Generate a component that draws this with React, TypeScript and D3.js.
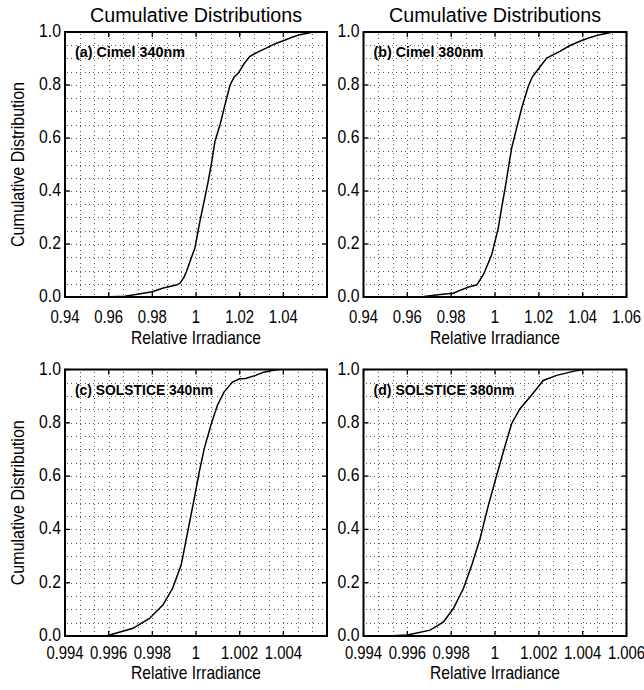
import React from "react";
import * as d3 from "d3";

// ---- data -------------------------------------------------------------
const cimel340X = [0.9575, 0.9675, 0.9759, 0.98, 0.985, 0.991, 0.9927, 0.9945, 0.9957, 0.9975, 0.9995, 1.0018, 1.0037, 1.0056, 1.0072, 1.0087, 1.011, 1.0133, 1.0156, 1.0175, 1.0194, 1.022, 1.0247, 1.0285, 1.0324, 1.036, 1.04, 1.044, 1.0476, 1.0537];
const cimel340F = [0, 0.003, 0.014, 0.02, 0.034, 0.045, 0.052, 0.075, 0.097, 0.14, 0.185, 0.286, 0.36, 0.437, 0.51, 0.588, 0.65, 0.726, 0.8, 0.83, 0.845, 0.88, 0.908, 0.925, 0.94, 0.955, 0.967, 0.98, 0.99, 1.0];

const cimel380X = [0.957, 0.9676, 0.975, 0.981, 0.984, 0.988, 0.9917, 0.9947, 0.9965, 0.9985, 1.0015, 1.003, 1.0046, 1.0061, 1.0076, 1.0099, 1.0122, 1.0152, 1.017, 1.019, 1.0236, 1.0296, 1.034, 1.0387, 1.043, 1.0478, 1.054];
const cimel380F = [0, 0.002, 0.009, 0.014, 0.025, 0.038, 0.046, 0.084, 0.12, 0.16, 0.26, 0.335, 0.41, 0.486, 0.562, 0.638, 0.713, 0.795, 0.83, 0.852, 0.902, 0.927, 0.948, 0.965, 0.978, 0.99, 1.0];

const solstice340X = [0.9959, 0.99605, 0.99711, 0.99787, 0.99848, 0.99893, 0.99932, 0.99962, 0.99992, 1.00015, 1.00038, 1.00068, 1.00098, 1.00129, 1.00167, 1.002, 1.00227, 1.00273, 1.0031, 1.00349, 1.0038];
const solstice340F = [0, 0.004, 0.029, 0.066, 0.116, 0.179, 0.266, 0.391, 0.516, 0.616, 0.704, 0.791, 0.866, 0.916, 0.953, 0.965, 0.966, 0.978, 0.99, 0.996, 1.0];

const solstice380X = [0.9951, 0.99601, 0.99704, 0.99765, 0.9981, 0.99856, 0.99894, 0.99932, 0.9997, 1.00008, 1.00038, 1.00076, 1.00114, 1.0016, 1.0022, 1.00281, 1.00357, 1.00402];
const solstice380F = [0, 0.004, 0.022, 0.053, 0.103, 0.178, 0.266, 0.366, 0.491, 0.604, 0.691, 0.797, 0.853, 0.897, 0.959, 0.978, 0.993, 1.0];

const cimelTicks = [0.94, 0.96, 0.98, 1, 1.02, 1.04, 1.06];
const solsticeTicks = [0.994, 0.996, 0.998, 1, 1.002, 1.004, 1.006];
const yTicks = [0, 0.2, 0.4, 0.6, 0.8, 1.0];

const panelLabels = ["(a) Cimel 340nm", "(b) Cimel 380nm", "(c) SOLSTICE 340nm", "(d) SOLSTICE 380nm"];
const titleText = "Cumulative Distributions";
const xTitle = "Relative Irradiance";
const yTitle = "Cumulative Distribution";

// ---- layout -----------------------------------------------------------
const W = 644;
const H = 690;
const FONT = "'Liberation Sans', Arial, Helvetica, sans-serif";
const cols = [
  { x0: 65, x1: 327 },
  { x0: 363.5, x1: 626.5 },
];
const rows = [
  { y0: 32, y1: 297, tickBase: 323, titleBase: 344 },
  { y0: 369.5, y1: 636, tickBase: 659, titleBase: 679 },
];

type Panel = {
  xs: number[];
  fs: number[];
  ticks: number[];
  labeledTicks: number[];
  label: string;
  labelLen: number;
  col: number;
  row: number;
};

const panels: Panel[] = [
  { xs: cimel340X, fs: cimel340F, ticks: cimelTicks, labeledTicks: cimelTicks.slice(0, -1), label: panelLabels[0], labelLen: 110, col: 0, row: 0 },
  { xs: cimel380X, fs: cimel380F, ticks: cimelTicks, labeledTicks: cimelTicks, label: panelLabels[1], labelLen: 110, col: 1, row: 0 },
  { xs: solstice340X, fs: solstice340F, ticks: solsticeTicks, labeledTicks: solsticeTicks.slice(0, -1), label: panelLabels[2], labelLen: 138, col: 0, row: 1 },
  { xs: solstice380X, fs: solstice380F, ticks: solsticeTicks, labeledTicks: solsticeTicks, label: panelLabels[3], labelLen: 141, col: 1, row: 1 },
];

const fmtX = d3.format("~g");
const fmtY = d3.format(".1f");

function Squeezed({ x, y, sx, anchor, size, children }: { x: number; y: number; sx: number; anchor: string; size: number; children: React.ReactNode }) {
  return (
    <text
      transform={`translate(${x},${y}) scale(${sx},1)`}
      textAnchor={anchor}
      fontSize={size}
      fontFamily={FONT}
      fill="#000"
    >
      {children}
    </text>
  );
}

function PanelView({ p, idx }: { p: Panel; idx: number }) {
  const { x0, x1 } = cols[p.col];
  const { y0, y1, tickBase, titleBase } = rows[p.row];
  const domain: [number, number] = [p.ticks[0], p.ticks[p.ticks.length - 1]];
  const x = d3.scaleLinear().domain(domain).range([x0, x1]);
  const y = d3.scaleLinear().domain([0, 1]).range([y1, y0]);

  // three minor divisions per major x interval, four per major y interval
  const nx = (p.ticks.length - 1) * 3;
  const xGrid = d3.range(1, nx).map((i) => domain[0] + (i * (domain[1] - domain[0])) / nx);
  const yGrid = d3.range(1, 20).map((i) => i * 0.05);

  const pts: [number, number][] = p.xs.map((v, i) => [v, p.fs[i]]);
  const line = d3
    .line<[number, number]>()
    .x((d) => x(d[0]))
    .y((d) => y(d[1]));

  const clipId = `clip-${idx}`;
  const cx = (x0 + x1) / 2;
  const cy = (y0 + y1) / 2;
  const tl = 5;

  return (
    <g>
      <defs>
        <clipPath id={clipId}>
          <rect x={x0} y={y0} width={x1 - x0} height={y1 - y0} />
        </clipPath>
      </defs>
      {/* dotted grid */}
      <g stroke="#555" strokeWidth={1} strokeDasharray="1 3.4" shapeRendering="crispEdges">
        {xGrid.map((v, i) => (
          <line key={`gx${i}`} x1={Math.round(x(v)) + 0.5} x2={Math.round(x(v)) + 0.5} y1={y0 + 2} y2={y1} />
        ))}
        {yGrid.map((v, i) => (
          <line key={`gy${i}`} x1={x0 + 2} x2={x1} y1={Math.round(y(v)) + 0.5} y2={Math.round(y(v)) + 0.5} />
        ))}
      </g>
      {/* inward major ticks on all sides */}
      <g stroke="#000" strokeWidth={1.3}>
        {p.ticks.map((v, i) => (
          <g key={`tx${i}`}>
            <line x1={x(v)} x2={x(v)} y1={y1} y2={y1 - tl} />
            <line x1={x(v)} x2={x(v)} y1={y0} y2={y0 + tl} />
          </g>
        ))}
        {yTicks.map((v, i) => (
          <g key={`ty${i}`}>
            <line x1={x0} x2={x0 + tl} y1={y(v)} y2={y(v)} />
            <line x1={x1} x2={x1 - tl} y1={y(v)} y2={y(v)} />
          </g>
        ))}
      </g>
      {/* cumulative distribution curve */}
      <path d={line(pts) || ""} fill="none" stroke="#000" strokeWidth={1.5} clipPath={`url(#${clipId})`} />
      {/* frame */}
      <rect x={x0} y={y0} width={x1 - x0} height={y1 - y0} fill="none" stroke="#000" strokeWidth={2} />
      {/* panel label */}
      <text x={x0 + 10} y={y0 + 25} fontSize={15} fontWeight="bold" fontFamily={FONT} textLength={p.labelLen} lengthAdjust="spacingAndGlyphs">
        {p.label}
      </text>
      {/* x tick labels */}
      {p.labeledTicks.map((v, i) => (
        <Squeezed key={`lx${i}`} x={x(v)} y={tickBase} sx={0.85} anchor="middle" size={17.5}>
          {fmtX(v)}
        </Squeezed>
      ))}
      {/* y tick labels */}
      {yTicks.map((v, i) => (
        <Squeezed key={`ly${i}`} x={x0 - 4} y={y(v) + 5} sx={0.9} anchor="end" size={17.5}>
          {fmtY(v)}
        </Squeezed>
      ))}
      {/* axis titles */}
      <text x={cx} y={titleBase} textAnchor="middle" fontSize={18.5} fontFamily={FONT} textLength={130} lengthAdjust="spacingAndGlyphs">
        {xTitle}
      </text>
      {p.col === 0 && (
        <text
          transform={`translate(24,${cy}) rotate(-90)`}
          textAnchor="middle"
          fontSize={18.5}
          fontFamily={FONT}
          textLength={165}
          lengthAdjust="spacingAndGlyphs"
        >
          {yTitle}
        </text>
      )}
      {p.row === 0 && (
        <text x={cx} y={21.5} textAnchor="middle" fontSize={19.5} fontFamily={FONT} textLength={212} lengthAdjust="spacingAndGlyphs">
          {titleText}
        </text>
      )}
    </g>
  );
}

export default function App() {
  return (
    <svg
      width={W}
      height={H}
      viewBox={`0 0 ${W} ${H}`}
      style={{ position: "absolute", left: 0, top: 0, background: "#fff" }}
    >
      <rect x={0} y={0} width={W} height={H} fill="#fff" />
      {panels.map((p, i) => (
        <PanelView key={i} p={p} idx={i} />
      ))}
    </svg>
  );
}
